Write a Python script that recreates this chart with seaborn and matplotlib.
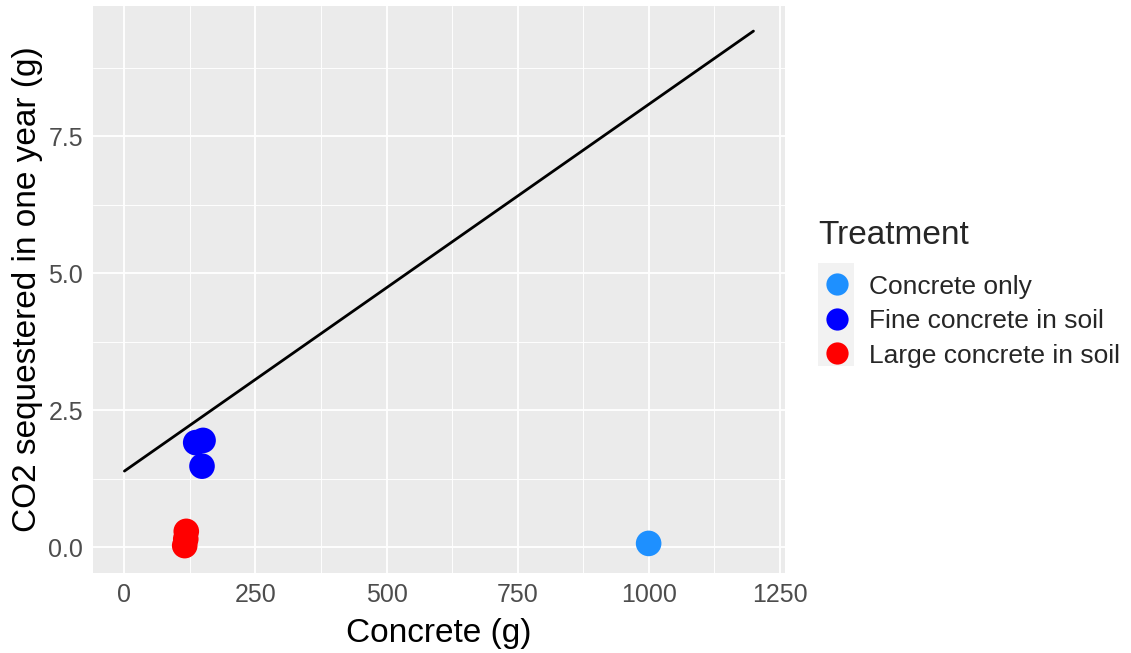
import matplotlib
matplotlib.use("Agg")
import matplotlib.pyplot as plt
from matplotlib.patches import Rectangle
from matplotlib.ticker import MultipleLocator
import seaborn as sns
import pandas as pd

# Measured samples
treatment = ["Concrete only",
             "Fine concrete in soil", "Fine concrete in soil", "Fine concrete in soil",
             "Large concrete in soil", "Large concrete in soil", "Large concrete in soil"]
concrete_g = [1000, 136, 150, 148, 118, 117, 115]
co2_g = [0.07, 1.91, 1.95, 1.48, 0.29, 0.15, 0.03]

# Reference line (theoretical sequestration)
line_x = [0, 1200]
line_y = [1.39, 9.42]

levels = ["Concrete only", "Fine concrete in soil", "Large concrete in soil"]
colors = ["#1E90FF", "#0000FF", "#FF0000"]

sns.set_theme(style="darkgrid")
plt.rcParams["font.family"] = ["Liberation Sans", "DejaVu Sans"]

df = pd.DataFrame({"Concrete": concrete_g, "CO2": co2_g, "Treatment": treatment})
line_df = pd.DataFrame({"x": line_x, "y": line_y})

fig = plt.figure(figsize=(11.31, 6.53), dpi=100)
ax = fig.add_axes([0.0822, 0.1225, 0.6118, 0.8685])
ax.set_facecolor("#EBEBEB")

sns.lineplot(data=line_df, x="x", y="y", color="black", linewidth=2.0, ax=ax, zorder=3)
sns.scatterplot(data=df, x="Concrete", y="CO2", hue="Treatment", hue_order=levels,
                palette=colors, s=340, linewidth=0, ax=ax, zorder=4, legend=False)

ax.set_xlim(-60, 1260)
ax.set_ylim(-0.47, 9.88)
ax.xaxis.set_major_locator(MultipleLocator(250))
ax.xaxis.set_minor_locator(MultipleLocator(125))
ax.yaxis.set_major_locator(MultipleLocator(2.5))
ax.yaxis.set_minor_locator(MultipleLocator(1.25))
ax.set_yticks([0, 2.5, 5, 7.5])
ax.set_yticklabels(["0.0", "2.5", "5.0", "7.5"])
ax.grid(which="major", color="white", linewidth=1.3)
ax.grid(which="minor", color="white", linewidth=0.65)
for s in ax.spines.values():
    s.set_visible(False)
ax.tick_params(axis="both", which="major", length=4, width=1, color="#333333",
               labelcolor="#4D4D4D", labelsize=18, pad=3)
ax.tick_params(axis="both", which="minor", length=0)
ax.set_xlabel("Concrete (g)", fontsize=24, color="black", labelpad=8)
ax.set_ylabel("CO2 sequestered in one year (g)", fontsize=24, color="black", labelpad=4)

# Legend
handles = [plt.Line2D([], [], marker="o", linestyle="", markersize=16,
                      markerfacecolor=c, markeredgewidth=0) for c in colors]
leg = fig.legend(handles, levels, title="Treatment", loc="upper left",
                 bbox_to_anchor=(818 / 1131, 1 - 220 / 653), frameon=False,
                 fontsize=19, title_fontsize=24, handletextpad=0.5,
                 labelspacing=0.4, borderpad=0, borderaxespad=0, handlelength=1.45)
leg._legend_box.align = "left"
leg._legend_box.sep = 17
fig.add_artist(Rectangle((818 / 1131, 1 - 366 / 653), 36 / 1131, 103 / 653,
                         transform=fig.transFigure, facecolor="#F2F2F2",
                         edgecolor="none", zorder=0))

fig.savefig("out.png", dpi=100)
